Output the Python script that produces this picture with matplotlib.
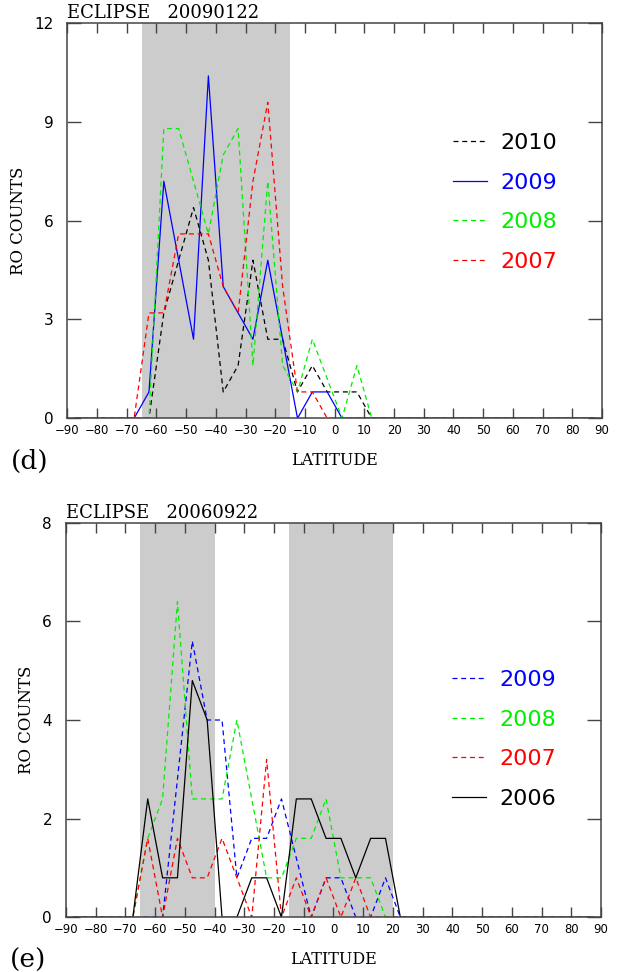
import numpy as np
import matplotlib.pyplot as plt

# latitude bins, 5 degree wide
lat = np.arange(-87.5, 90, 5)

# eclipse 20090122 : RO counts per latitude bin
c2010_a = [0, 0, 0, 0, 0, 0, 3.2, 4.8, 6.4, 4.8, 0.8, 1.6, 4.8, 2.4, 2.4, 0.8, 1.6, 0.8,
           0.8, 0.8, 0, 0, 0, 0, 0, 0, 0, 0, 0, 0, 0, 0, 0, 0, 0, 0]
c2009_a = [0, 0, 0, 0, 0, 0.8, 7.2, 4.8, 2.4, 10.4, 4.0, 3.2, 2.4, 4.8, 2.4, 0, 0.8, 0.8,
           0, 0, 0, 0, 0, 0, 0, 0, 0, 0, 0, 0, 0, 0, 0, 0, 0, 0]
c2008_a = [0, 0, 0, 0, 0, 0, 8.8, 8.8, 7.2, 5.6, 8.0, 8.8, 1.6, 7.2, 1.6, 0.8, 2.4, 1.2,
           0, 1.6, 0, 0, 0, 0, 0, 0, 0, 0, 0, 0, 0, 0, 0, 0, 0, 0]
c2007_a = [0, 0, 0, 0, 0, 3.2, 3.2, 5.6, 5.6, 5.6, 4.0, 3.2, 7.2, 9.6, 4.0, 0.8, 0.8, 0,
           0, 0, 0, 0, 0, 0, 0, 0, 0, 0, 0, 0, 0, 0, 0, 0, 0, 0]

# eclipse 20060922
c2009_b = [0, 0, 0, 0, 0, 0, 0, 2.8, 5.6, 4.0, 4.0, 0.8, 1.6, 1.6, 2.4, 1.2, 0, 0.8,
           0.8, 0, 0, 0.8, 0, 0, 0, 0, 0, 0, 0, 0, 0, 0, 0, 0, 0, 0]
c2008_b = [0, 0, 0, 0, 0, 1.6, 2.4, 6.4, 2.4, 2.4, 2.4, 4.0, 2.4, 0.8, 0.8, 1.6, 1.6, 2.4,
           0.8, 0.8, 0.8, 0, 0, 0, 0, 0, 0, 0, 0, 0, 0, 0, 0, 0, 0, 0]
c2007_b = [0, 0, 0, 0, 0, 1.6, 0, 1.6, 0.8, 0.8, 1.6, 0.8, 0, 3.2, 0, 0.8, 0, 0.8,
           0, 0.8, 0, 0, 0, 0, 0, 0, 0, 0, 0, 0, 0, 0, 0, 0, 0, 0]
c2006_b = [0, 0, 0, 0, 0, 2.4, 0.8, 0.8, 4.8, 4.0, 0, 0, 0.8, 0.8, 0, 2.4, 2.4, 1.6,
           1.6, 0.8, 1.6, 1.6, 0, 0, 0, 0, 0, 0, 0, 0, 0, 0, 0, 0, 0, 0]

# shaded latitude bands
shade_a = [(-65, -15)]
shade_b = [(-65, -40), (-15, 20)]

xticks = list(range(-90, 91, 10))
xlabels = [str(v).replace('-', '\u2212') for v in xticks]

DASH = (0, (4, 3))
serif = 'DejaVu Serif'

fig = plt.figure(figsize=(6.19, 9.72), dpi=100)
ax1 = fig.add_axes([0.1087, 0.5697, 0.8638, 0.4064])
ax2 = fig.add_axes([0.1066, 0.0563, 0.8643, 0.4059])


def style(ax, ymax, ystep, title, letter):
    ax.set_xlim(-90, 90)
    ax.set_ylim(0, ymax)
    ax.set_xticks(xticks)
    ax.set_xticklabels(xlabels, fontsize=8.4)
    ax.set_yticks(np.arange(0, ymax + 0.01, ystep))
    ax.set_yticklabels([str(int(v)) for v in np.arange(0, ymax + 0.01, ystep)], fontsize=11)
    ax.tick_params(axis='x', direction='in', length=7, width=1, top=True, pad=4,
                   color='#444444')
    ax.tick_params(axis='y', direction='in', length=10, width=1, right=True, pad=10,
                   color='#444444')
    for s in ax.spines.values():
        s.set_color('#444444')
        s.set_linewidth(1.1)
    ax.set_ylabel('RO COUNTS', family=serif, fontsize=12, labelpad=5)
    ax.set_xlabel('LATITUDE', family=serif, fontsize=11.5, labelpad=11)
    ax.text(0.0, 1.003, title, transform=ax.transAxes, ha='left', va='bottom',
            family=serif, fontsize=13)
    ax.text(-0.105, -0.11, letter, transform=ax.transAxes, ha='left', va='center',
            family=serif, fontsize=19)


# panel (d)
for a, b in shade_a:
    ax1.axvspan(a, b, color='#cccccc', lw=0, zorder=0)
ax1.plot(lat, c2010_a, color='k', lw=0.9, ls=DASH, label='2010')
ax1.plot(lat, c2009_a, color='#0000ff', lw=0.9, label='2009')
ax1.plot(lat, c2008_a, color='#00ee00', lw=0.9, ls=DASH, label='2008')
ax1.plot(lat, c2007_a, color='#ff0000', lw=0.9, ls=DASH, label='2007')
style(ax1, 12, 3, 'ECLIPSE   20090122', '(d)')

# panel (e)
for a, b in shade_b:
    ax2.axvspan(a, b, color='#cccccc', lw=0, zorder=0)
ax2.plot(lat, c2009_b, color='#0000ff', lw=0.9, ls=DASH, label='2009')
ax2.plot(lat, c2008_b, color='#00ee00', lw=0.9, ls=DASH, label='2008')
ax2.plot(lat, c2007_b, color='#ff0000', lw=0.9, ls=DASH, label='2007')
ax2.plot(lat, c2006_b, color='k', lw=0.9, label='2006')
style(ax2, 8, 2, 'ECLIPSE   20060922', '(e)')

for ax, anchor in ((ax1, (0.70, 0.75)), (ax2, (0.70, 0.655))):
    ax.legend(loc='upper left', bbox_to_anchor=anchor, frameon=False,
              labelcolor='linecolor', handlelength=1.55, handletextpad=0.6,
              labelspacing=0.88, borderpad=0, prop={'size': 16})

fig.savefig('out.png', dpi=100)
